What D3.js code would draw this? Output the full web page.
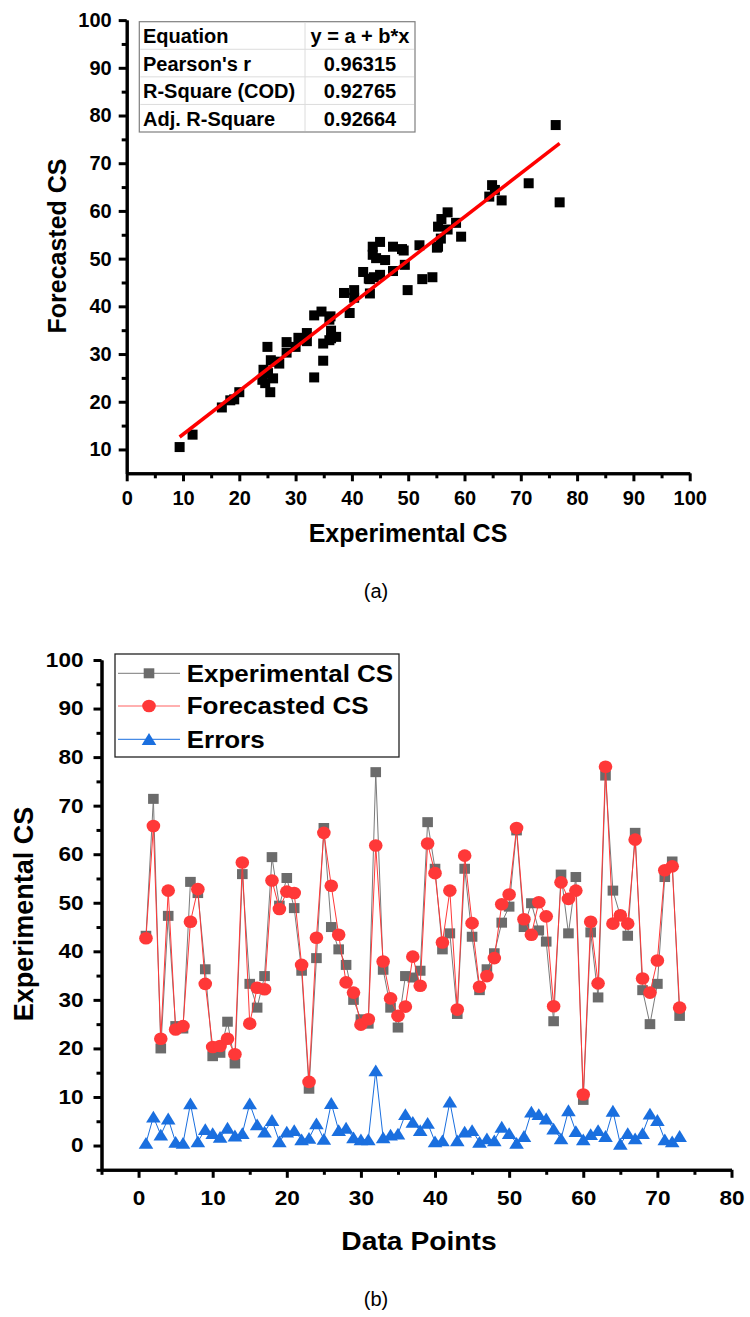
<!DOCTYPE html>
<html><head><meta charset="utf-8">
<script src="https://cdn.jsdelivr.net/npm/d3@7"></script>
<style>
html,body{margin:0;padding:0;background:#fff;}
svg{display:block;}
text{font-family:"Liberation Sans",Arial,sans-serif;}
</style></head>
<body>
<svg id="chart" width="750" height="1317"></svg>
<script>
// ---------- data ----------
const dataPoints = d3.range(1, 74);
const experimentalCS = [43.2, 71.4, 20.0, 47.3, 24.6, 24.1, 54.3, 52.0, 36.3, 18.4,
 19.1, 25.5, 16.9, 55.9, 33.3, 28.4, 34.9, 59.4, 49.4, 55.1,
 48.9, 36.0, 11.7, 38.6, 65.4, 45.0, 40.4, 37.2, 30.0, 26.0,
 25.1, 76.9, 36.2, 28.4, 24.3, 34.9, 34.6, 36.0, 66.6, 57.0,
 40.4, 43.7, 27.1, 57.0, 43.0, 32.0, 36.3, 39.6, 45.9, 49.2,
 64.9, 45.0, 49.9, 44.3, 42.0, 25.6, 55.8, 43.7, 55.3, 9.4,
 43.9, 30.5, 76.2, 52.5, 47.3, 43.2, 64.4, 32.0, 25.0, 33.3,
 55.3, 58.5, 26.7];
const forecastedCS = [42.7, 65.8, 22.0, 52.5, 23.9, 24.6, 46.1, 52.8, 33.3, 20.3,
 20.5, 22.0, 18.8, 58.3, 25.1, 32.5, 32.2, 54.6, 48.7, 52.3,
 52.0, 37.2, 13.1, 42.8, 64.4, 53.5, 43.4, 33.6, 31.5, 24.9,
 26.0, 61.8, 37.9, 30.3, 26.7, 28.6, 38.9, 32.9, 62.2, 56.1,
 41.8, 52.5, 28.0, 59.7, 45.8, 32.7, 34.9, 38.6, 49.7, 51.7,
 65.4, 46.6, 43.4, 50.1, 47.2, 28.7, 54.2, 50.8, 52.5, 10.5,
 46.1, 33.4, 78.0, 45.7, 47.4, 45.7, 63.0, 34.4, 31.5, 38.1,
 56.7, 57.5, 28.4];
const errors = [0.5, 5.9, 2.2, 5.5, 0.7, 0.5, 8.6, 0.8, 3.3, 2.5,
 1.7, 3.6, 2.0, 2.5, 8.6, 4.3, 2.8, 5.2, 0.8, 2.8,
 3.1, 1.2, 1.5, 4.5, 1.3, 8.7, 3.1, 3.6, 1.6, 1.2,
 1.2, 15.4, 1.6, 2.2, 2.4, 6.4, 4.8, 3.1, 4.6, 0.8,
 1.0, 9.0, 1.0, 2.8, 3.1, 0.7, 1.4, 1.0, 3.8, 2.5,
 0.5, 1.9, 6.9, 6.4, 5.5, 3.4, 1.4, 7.2, 2.9, 1.2,
 2.3, 3.1, 1.9, 7.1, 0.3, 2.5, 1.4, 2.5, 6.5, 5.2,
 1.2, 0.8, 1.9];
const tableLabels = ["Equation", "Pearson's r", "R-Square (COD)", "Adj. R-Square"];
const tableValues = ["y = a + b*x", "0.96315", "0.92765", "0.92664"];
const topXTicks = [0,10,20,30,40,50,60,70,80,90,100];
const topYTicks = [10,20,30,40,50,60,70,80,90,100];
const botXTicks = [0,10,20,30,40,50,60,70,80];
const botYTicks = [0,10,20,30,40,50,60,70,80,90,100];
const seriesNames = ["Experimental CS", "Forecasted CS", "Errors"];

// ---------- setup ----------
const svg = d3.select("#chart");
const FONT = '"Liberation Sans",Arial,sans-serif';
const SX = 1.13; // horizontal stretch of lower panel text

function styleAxis(g){
  g.select(".domain").attr("stroke","#000").attr("stroke-width",3);
  g.selectAll(".tick line").attr("stroke","#000").attr("stroke-width",3);
  g.selectAll("text").attr("font-family",FONT).attr("font-weight","bold").attr("font-size",20).attr("fill","#000");
}
function minorVals(lo, hi){ const v=[]; for(let t=lo; t<=hi+1e-9; t+=10) v.push(t); return v; }

// ================= (a) scatter =================
const xT = d3.scaleLinear().domain([0,100]).range([126.7,689.7]);
const yT = d3.scaleLinear().domain([5,100]).range([473.3,20.1]);

// minor ticks
svg.append("g").attr("transform","translate(0,473.3)")
  .call(d3.axisBottom(xT).tickValues(minorVals(5,95)).tickSize(5).tickSizeOuter(0).tickFormat(""))
  .call(styleAxis);
svg.append("g").attr("transform","translate(126.7,0)")
  .call(d3.axisLeft(yT).tickValues(minorVals(15,95)).tickSize(5).tickSizeOuter(0).tickFormat(""))
  .call(styleAxis);
// major
const gxT = svg.append("g").attr("transform","translate(0,473.3)")
  .call(d3.axisBottom(xT).tickValues(topXTicks).tickSize(8).tickPadding(9.5).tickSizeOuter(0))
  .call(styleAxis);
const gyT = svg.append("g").attr("transform","translate(126.7,0)")
  .call(d3.axisLeft(yT).tickValues(topYTicks).tickSize(8).tickPadding(7).tickSizeOuter(0))
  .call(styleAxis);

// scatter points
svg.append("g").selectAll("rect").data(experimentalCS).join("rect")
  .attr("x",(d,i)=>xT(d)-5).attr("y",(d,i)=>yT(forecastedCS[i])-5)
  .attr("width",10).attr("height",10).attr("fill","#000");

// linear fit
const mx = d3.mean(experimentalCS), my = d3.mean(forecastedCS);
let sxy=0, sxx=0;
experimentalCS.forEach((x,i)=>{ sxy += (x-mx)*(forecastedCS[i]-my); sxx += (x-mx)*(x-mx); });
const slope = sxy/sxx, intercept = my - slope*mx;
const [xmin,xmax] = d3.extent(experimentalCS);
svg.append("line")
  .attr("x1",xT(xmin)).attr("y1",yT(intercept+slope*xmin))
  .attr("x2",xT(xmax)).attr("y2",yT(intercept+slope*xmax))
  .attr("stroke","#ff0000").attr("stroke-width",3.5);

// stats table
const tbl = svg.append("g");
const tX0=139.3, tX1=415, tY0=21.7, tY1=132, tCol=305;
const rowH = (tY1-tY0)/tableLabels.length;
tbl.append("rect").attr("x",tX0).attr("y",tY0).attr("width",tX1-tX0).attr("height",tY1-tY0)
  .attr("fill","#fff").attr("stroke","#7f7f7f").attr("stroke-width",1.2);
for(let r=1;r<tableLabels.length;r++){
  tbl.append("line").attr("x1",tX0+1).attr("x2",tX1-1).attr("y1",tY0+r*rowH).attr("y2",tY0+r*rowH)
    .attr("stroke","#dcdcdc").attr("stroke-width",1);
}
tbl.append("line").attr("x1",tCol).attr("x2",tCol).attr("y1",tY0+1).attr("y2",tY1-1)
  .attr("stroke","#dcdcdc").attr("stroke-width",1);
tableLabels.forEach((t,r)=>{
  tbl.append("text").attr("x",143).attr("y",tY0+r*rowH+21.5).text(t)
    .attr("font-size",20).attr("font-weight","bold").attr("fill","#000");
  tbl.append("text").attr("x",(tCol+tX1)/2).attr("y",tY0+r*rowH+21.5).text(tableValues[r])
    .attr("text-anchor","middle").attr("font-size",20).attr("font-weight","bold").attr("fill","#000");
});

// titles
svg.append("text").attr("x",408).attr("y",542).attr("text-anchor","middle")
  .attr("font-size",25).attr("font-weight","bold").text("Experimental CS");
svg.append("text").attr("transform","translate(66,246) rotate(-90)").attr("text-anchor","middle")
  .attr("font-size",25).attr("font-weight","bold").text("Forecasted CS");
svg.append("text").attr("x",376).attr("y",598).attr("text-anchor","middle")
  .attr("font-family",'"Liberation Serif","Times New Roman",serif').attr("font-size",20).text("(a)");

// ================= (b) series =================
const xB = d3.scaleLinear().domain([-5,80]).range([101.5,731.5]);
const yB = d3.scaleLinear().domain([-5,100]).range([1169.8,660]);

svg.append("g").attr("transform","translate(0,1169.8)")
  .call(d3.axisBottom(xB).tickValues(minorVals(-5,75)).tickSize(5).tickSizeOuter(0).tickFormat(""))
  .call(styleAxis);
svg.append("g").attr("transform","translate(101.5,0)")
  .call(d3.axisLeft(yB).tickValues(minorVals(-5,95)).tickSize(5).tickSizeOuter(0).tickFormat(""))
  .call(styleAxis);
const gxB = svg.append("g").attr("transform","translate(0,1169.8)")
  .call(d3.axisBottom(xB).tickValues(botXTicks).tickSize(8).tickPadding(12.8).tickSizeOuter(0))
  .call(styleAxis);
gxB.selectAll("text").attr("transform",`scale(${SX},1)`);
const gyB = svg.append("g").attr("transform","translate(101.5,0)")
  .call(d3.axisLeft(yB).tickValues(botYTicks).tickSize(8).tickPadding(10).tickSizeOuter(0))
  .call(styleAxis);
gyB.selectAll("text").attr("x",-18/SX).attr("transform",`scale(${SX},1)`);

const colGray="#6b6b6b", colGrayLine="#7a7a7a", colRed="#ff3838", colBlue="#1a6fdf";
const tri = (cx,cy)=>`M${cx},${cy-6.2}L${cx+7.3},${cy+5.6}L${cx-7.3},${cy+5.6}Z`;
const lineGen = arr => d3.line().x((d,i)=>xB(dataPoints[i])).y(d=>yB(d))(arr);

const gS = svg.append("g");
// experimental
gS.append("path").attr("d",lineGen(experimentalCS)).attr("fill","none").attr("stroke",colGrayLine).attr("stroke-width",1);
gS.append("g").selectAll("rect").data(experimentalCS).join("rect")
  .attr("x",(d,i)=>xB(dataPoints[i])-5.3).attr("y",d=>yB(d)-5).attr("width",10.6).attr("height",10).attr("fill",colGray);
// forecasted
gS.append("path").attr("d",lineGen(forecastedCS)).attr("fill","none").attr("stroke",colRed).attr("stroke-width",1);
gS.append("g").selectAll("ellipse").data(forecastedCS).join("ellipse")
  .attr("cx",(d,i)=>xB(dataPoints[i])).attr("cy",d=>yB(d)).attr("rx",6.8).attr("ry",6.3).attr("fill",colRed);
// errors
gS.append("path").attr("d",lineGen(errors)).attr("fill","none").attr("stroke",colBlue).attr("stroke-width",1);
gS.append("g").selectAll("path").data(errors).join("path")
  .attr("d",(d,i)=>tri(xB(dataPoints[i]),yB(d))).attr("fill",colBlue);

// legend
const lg = svg.append("g");
lg.append("rect").attr("x",115).attr("y",654).attr("width",284).attr("height",103)
  .attr("fill","#fff").attr("stroke","#222").attr("stroke-width",1.3);
const rows=[673.3,706,739.3];
const lcols=[colGrayLine, "#ff6060", colBlue];
rows.forEach((ry,k)=>{
  lg.append("line").attr("x1",118).attr("x2",180).attr("y1",ry).attr("y2",ry).attr("stroke",lcols[k]).attr("stroke-width",1);
  if(k===0) lg.append("rect").attr("x",149-5.3).attr("y",ry-5).attr("width",10.6).attr("height",10).attr("fill",colGray);
  if(k===1) lg.append("ellipse").attr("cx",149).attr("cy",ry).attr("rx",6.8).attr("ry",6.3).attr("fill",colRed);
  if(k===2) lg.append("path").attr("d",tri(149,ry)).attr("fill",colBlue);
  lg.append("text").attr("transform",`translate(186.7,${ry+8.2}) scale(${SX},1)`)
    .attr("font-size",23).attr("font-weight","bold").attr("fill","#000").text(seriesNames[k]);
});

// titles
svg.append("text").attr("transform",`translate(419,1250) scale(${SX},1)`).attr("text-anchor","middle")
  .attr("font-size",25).attr("font-weight","bold").text("Data Points");
svg.append("text").attr("transform","translate(33,914) rotate(-90)").attr("text-anchor","middle")
  .attr("font-size",27).attr("font-weight","bold").text("Experimental CS");
svg.append("text").attr("x",376).attr("y",1306).attr("text-anchor","middle")
  .attr("font-family",'"Liberation Serif","Times New Roman",serif').attr("font-size",20).text("(b)");
</script>
</body></html>
